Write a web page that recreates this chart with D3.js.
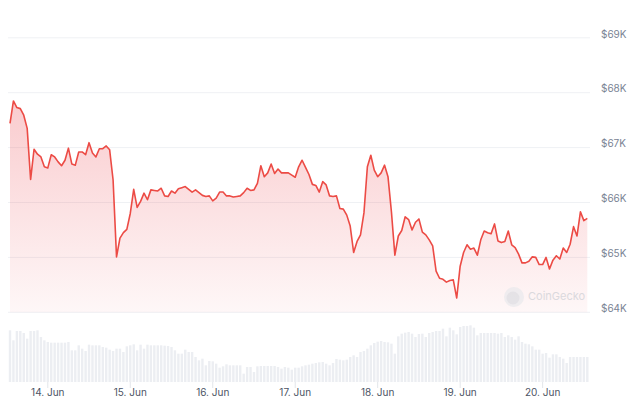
<!DOCTYPE html>
<html>
<head>
<meta charset="utf-8">
<script src="https://cdn.jsdelivr.net/npm/d3@7"></script>
<style>
  html, body { margin: 0; padding: 0; background: #fff; }
  #chart { width: 633px; height: 401px; }
  text { font-family: Inter, "Noto Sans", sans-serif; }
</style>
</head>
<body>
<div id="chart"></div>
<script>
// hourly prices (USD), starting 13 Jun 13:00 UTC
const startTime = Date.UTC(2024, 5, 13, 13);
const prices = [
  67440, 67850, 67730, 67710, 67590, 67350, 66420, 66970, 66880, 66830,
  66650, 66630, 66870, 66830, 66740, 66670, 66770, 66990, 66700, 66680,
  66920, 66920, 66870, 67090, 66900, 66830, 66980, 66980, 67030, 66960,
  66410, 65010, 65350, 65450, 65510, 65800, 66240, 65910, 66020, 66170,
  66050, 66230, 66220, 66210, 66260, 66120, 66110, 66210, 66170, 66250,
  66270, 66290, 66240, 66190, 66230, 66180, 66130, 66110, 66120, 66030,
  66080, 66190, 66190, 66120, 66120, 66100, 66110, 66120, 66180, 66260,
  66220, 66230, 66350, 66670, 66470, 66540, 66700, 66530, 66610, 66540,
  66540, 66540, 66500, 66460, 66650, 66770, 66640, 66510, 66330, 66310,
  66190, 66380, 66320, 66120, 66110, 66120, 65890, 65880, 65770, 65570,
  65090, 65290, 65410, 65810, 66650, 66860, 66590, 66470, 66540, 66680,
  66470, 65830, 65040, 65390, 65490, 65740, 65690, 65500, 65640, 65700,
  65460, 65410, 65320, 65210, 64750, 64620, 64600, 64550, 64580, 64590,
  64260, 64840, 65090, 65230, 65150, 65170, 65040, 65320, 65480, 65450,
  65430, 65610, 65300, 65270, 65290, 65480, 65230, 65180, 65060, 64900,
  64900, 64930, 65010, 65000, 64870, 64870, 65000, 64790, 64950, 65030,
  64970, 65170, 65090, 65240, 65560, 65390, 65830, 65670, 65710
];
// hourly volume (relative units)
const volumes = [
  155, 125, 153, 153, 147, 130, 153, 153, 155, 135,
  125, 120, 118, 118, 118, 118, 118, 120, 95, 95,
  110, 100, 93, 112, 110, 110, 110, 105, 103, 97,
  93, 100, 100, 90, 107, 110, 113, 95, 112, 100,
  112, 110, 110, 110, 110, 109, 108, 105, 95, 85,
  85, 97, 90, 90, 75, 65, 70, 50, 63, 62,
  55, 43, 47, 53, 50, 50, 50, 50, 25, 45,
  45, 30, 47, 48, 48, 48, 48, 48, 45, 40,
  45, 43, 37, 43, 43, 47, 50, 52, 55, 57,
  59, 60, 55, 50, 57, 69, 67, 65, 67, 75,
  80, 75, 90, 93, 100, 110, 117, 121, 123, 120,
  119, 115, 85, 137, 145, 148, 150, 145, 135, 144,
  145, 135, 147, 150, 153, 153, 160, 137, 163, 155,
  143, 165, 168, 168, 170, 163, 140, 147, 147, 147,
  147, 147, 145, 147, 135, 140, 135, 127, 137, 120,
  115, 113, 107, 97, 97, 85, 87, 73, 83, 83,
  75, 70, 57, 75, 75, 75, 75, 75, 75
];
const priceTicks = [64000, 65000, 66000, 67000, 68000, 69000];

const hour = 3600 * 1000;
const data = prices.map((p, i) => ({ t: new Date(startTime + i * hour), p, v: volumes[i] }));

const width = 633, height = 401;
const svg = d3.select('#chart').append('svg')
  .attr('width', width).attr('height', height);

const x = d3.scaleUtc()
  .domain([data[0].t, data[data.length - 1].t])
  .range([10, 587.3]);
const y = d3.scaleLinear().domain([64000, 69000]).range([312.3, 37.8]);
const yVol = d3.scaleLinear().domain([0, 180]).range([382, 322]);

const defs = svg.append('defs');
const grad = defs.append('linearGradient')
  .attr('id', 'fillGrad').attr('x1', 0).attr('y1', 0).attr('x2', 0).attr('y2', 1);
grad.append('stop').attr('offset', '0%').attr('stop-color', '#ea3943').attr('stop-opacity', 0.26);
grad.append('stop').attr('offset', '100%').attr('stop-color', '#ea3943').attr('stop-opacity', 0.04);

// gridlines
svg.append('g').selectAll('line').data(priceTicks).enter().append('line')
  .attr('x1', 8).attr('x2', 590)
  .attr('y1', d => y(d)).attr('y2', d => y(d))
  .attr('stroke', '#eff1f4').attr('stroke-width', 1);

// y labels
svg.append('g').selectAll('text').data(priceTicks).enter().append('text')
  .attr('x', 601).attr('y', d => y(d) - 3)
  .attr('dominant-baseline', 'middle')
  .attr('font-size', 10).attr('fill', '#7a8394')
  .text(d => '$' + d / 1000 + 'K');

// volume bars
svg.append('g').selectAll('rect').data(data).enter().append('rect')
  .attr('x', d => x(d.t) - 1.2)
  .attr('width', 2.4)
  .attr('y', d => yVol(d.v))
  .attr('height', d => yVol(0) - yVol(d.v))
  .attr('fill', '#eceef2');

// x axis ticks & labels
const days = d3.utcDay.range(new Date(startTime), data[data.length - 1].t);
const fmt = d3.utcFormat('%-d. %b');
svg.append('g').selectAll('line').data(days).enter().append('line')
  .attr('x1', d => x(d)).attr('x2', d => x(d))
  .attr('y1', 382).attr('y2', 388)
  .attr('stroke', '#e3e6ea');
svg.append('g').selectAll('text').data(days).enter().append('text')
  .attr('x', d => x(d)).attr('y', 396)
  .attr('text-anchor', 'middle')
  .attr('font-size', 10).attr('fill', '#4d5565')
  .text(d => fmt(d));

// area + line
const area = d3.area().x(d => x(d.t)).y0(y(64000)).y1(d => y(d.p));
const line = d3.line().x(d => x(d.t)).y(d => y(d.p));
svg.append('path').datum(data).attr('d', area).attr('fill', 'url(#fillGrad)');
svg.append('path').datum(data).attr('d', line)
  .attr('fill', 'none').attr('stroke', '#ec4b45').attr('stroke-width', 1.6)
  .attr('stroke-linejoin', 'round');

// watermark
const wm = svg.append('g').attr('opacity', 0.6);
wm.append('circle').attr('cx', 514).attr('cy', 297).attr('r', 10).attr('fill', '#e6e8ec');
wm.append('circle').attr('cx', 513).attr('cy', 298).attr('r', 6.5).attr('fill', '#d5d8de');
wm.append('text').attr('x', 528).attr('y', 297).attr('dominant-baseline', 'middle')
  .attr('font-size', 11).attr('fill', '#c4c8cf').text('CoinGecko');
</script>
</body>
</html>
